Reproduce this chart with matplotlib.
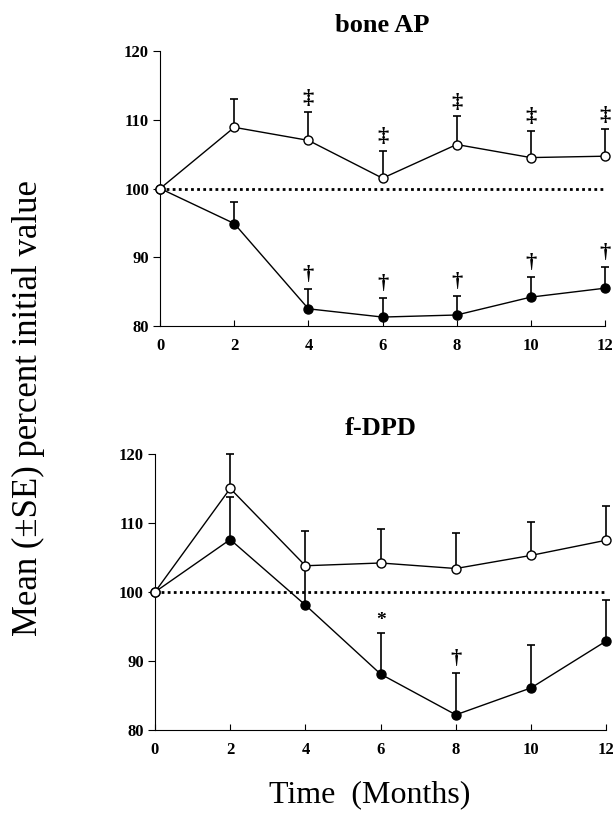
import matplotlib
matplotlib.use('Agg')
import matplotlib.pyplot as plt
import numpy as np

plt.rcParams['font.family'] = ['Liberation Serif', 'DejaVu Serif']

months = [0, 2, 4, 6, 8, 10, 12]

# bone AP panel
ap_open = [100, 108.9, 107.0, 101.5, 106.4, 104.5, 104.7]
ap_open_err = [0, 4.1, 4.1, 4.0, 4.1, 3.9, 3.9]
ap_open_marks = ['', '', '‡', '‡', '‡', '‡', '‡']
ap_fill = [100, 94.9, 82.5, 81.3, 81.6, 84.2, 85.5]
ap_fill_err = [0, 3.1, 2.9, 2.8, 2.8, 3.0, 3.1]
ap_fill_marks = ['', '', '†', '†', '†', '†', '†']

# f-DPD panel
dpd_open = [100, 115.0, 103.8, 104.2, 103.4, 105.3, 107.5]
dpd_open_err = [0, 5.0, 5.1, 4.9, 5.1, 4.9, 4.9]
dpd_open_marks = ['', '', '', '', '', '', '']
dpd_fill = [100, 107.6, 98.1, 88.1, 82.2, 86.1, 92.9]
dpd_fill_err = [0, 6.1, 5.6, 6.0, 6.1, 6.2, 6.0]
dpd_fill_marks = ['', '', '', '*', '†', '', '']


def DrawPanel(ax, title, yo, eo, mo, yf, ef, mf):
    ax.plot([0, 12], [100, 100], color='black', linestyle=(0, (1, 1.2)), linewidth=2, zorder=1) #baseline at 100
    for y, e, m, face in [(yf, ef, mf, 'black'), (yo, eo, mo, 'white')]:
        ax.errorbar(months, y, yerr=[np.zeros(len(e)), e], fmt='none', ecolor='black', elinewidth=1.2,
                    capsize=3, capthick=1.2, zorder=2, clip_on=False) #upper error bars only
        ax.plot(months, y, color='black', linewidth=1, marker='o', markersize=6.5,
                markerfacecolor=face, markeredgecolor='black', markeredgewidth=1, zorder=3, clip_on=False)
        for xi, yi, ei, mk in zip(months, y, e, m):
            if mk: ax.text(xi, yi + ei + 0.5, mk, ha='center', va='bottom', fontsize=16 if mk != '*' else 14,
                           fontweight='bold', zorder=4)
    ax.set_xlim(0, 12)
    ax.set_ylim(80, 120)
    ax.set_xticks(months)
    ax.set_yticks([80, 90, 100, 110, 120])
    ax.spines['top'].set_visible(False)
    ax.spines['right'].set_visible(False)
    ax.tick_params(axis='y', direction='out', length=5, labelsize=12, pad=3)
    ax.tick_params(axis='x', direction='in', length=4, labelsize=12, pad=9)
    for lab in ax.get_xticklabels() + ax.get_yticklabels(): lab.set_fontweight('bold')
    ax.set_title(title, fontsize=19, fontweight='bold', pad=14)


def main():
    fig = plt.figure(figsize=(6.16, 8.15), dpi=100)
    ax1 = fig.add_axes([0.26, 0.600, 0.722, 0.3374])
    ax2 = fig.add_axes([0.2516, 0.1043, 0.7326, 0.3387])
    DrawPanel(ax1, 'bone AP', ap_open, ap_open_err, ap_open_marks, ap_fill, ap_fill_err, ap_fill_marks)
    DrawPanel(ax2, 'f-DPD', dpd_open, dpd_open_err, dpd_open_marks, dpd_fill, dpd_fill_err, dpd_fill_marks)
    fig.text(0.047, 0.5, 'Mean (±SE) percent initial value', rotation=90, ha='center', va='center', fontsize=25)
    fig.text(0.6, 0.025, 'Time  (Months)', ha='center', va='center', fontsize=23)
    fig.savefig('out.png', dpi=100)


if __name__ == "__main__":
    main()
